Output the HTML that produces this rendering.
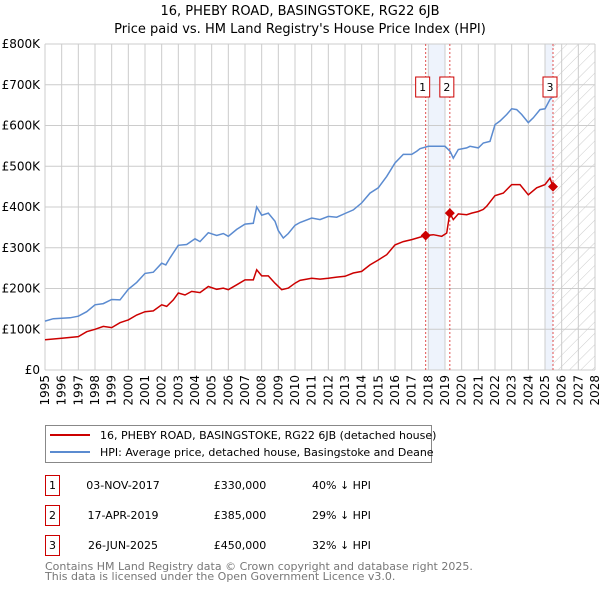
<!DOCTYPE html>
<html><head><meta charset="utf-8"><style>
body{margin:0;background:#fff;font-family:"DejaVu Sans","Liberation Sans",sans-serif;}
svg text{font-family:"DejaVu Sans","Liberation Sans",sans-serif;}
</style></head><body>
<svg id="chart" width="600" height="590" xmlns="http://www.w3.org/2000/svg">
<defs><pattern id="hatch" patternUnits="userSpaceOnUse" width="8" height="8" patternTransform="rotate(45)"><line x1="0" y1="0" x2="0" y2="8" stroke="#ccc" stroke-width="1"/></pattern></defs>
<text x="300" y="15" text-anchor="middle" font-size="13">16, PHEBY ROAD, BASINGSTOKE, RG22 6JB</text>
<text x="300" y="33" text-anchor="middle" font-size="13">Price paid vs. HM Land Registry's House Price Index (HPI)</text>
<g id="grid"></g><g id="series"></g><g id="axes"></g>
<rect x="45.5" y="425.5" width="386" height="37" fill="#fff" stroke="#888"/>
<line x1="50" y1="435" x2="90" y2="435" stroke="#cc0000" stroke-width="2"/>
<text x="100" y="439" font-size="11">16, PHEBY ROAD, BASINGSTOKE, RG22 6JB (detached house)</text>
<line x1="50" y1="452" x2="90" y2="452" stroke="#5b8bd0" stroke-width="2"/>
<text x="100" y="456" font-size="11">HPI: Average price, detached house, Basingstoke and Deane</text>
<g id="table" font-size="11"></g>
<text x="45" y="570" font-size="11" fill="#777">Contains HM Land Registry data © Crown copyright and database right 2025.</text>
<text x="45" y="580" font-size="11" fill="#777">This data is licensed under the Open Government Licence v3.0.</text>
</svg>
<script>
const yTicks=[0,100,200,300,400,500,600,700,800];
const yTickLabels=["£0","£100K","£200K","£300K","£400K","£500K","£600K","£700K","£800K"];
const xYears=[1995,1996,1997,1998,1999,2000,2001,2002,2003,2004,2005,2006,2007,2008,2009,2010,2011,2012,2013,2014,2015,2016,2017,2018,2019,2020,2021,2022,2023,2024,2025,2026,2027,2028];
const hpiYears=[1995,1995.5,1996,1996.5,1997,1997.5,1998,1998.5,1999,1999.5,2000,2000.5,2001,2001.5,2002,2002.25,2002.5,2003,2003.5,2004,2004.3,2004.8,2005.3,2005.7,2006,2006.5,2007,2007.5,2007.7,2008,2008.4,2008.8,2009,2009.3,2009.6,2010,2010.3,2011,2011.5,2012,2012.5,2013,2013.5,2014,2014.5,2015,2015.5,2016,2016.5,2017,2017.3,2017.5,2018,2018.5,2019,2019.3,2019.5,2019.8,2020.3,2020.5,2021,2021.3,2021.7,2022,2022.3,2022.7,2023,2023.3,2023.6,2024,2024.3,2024.7,2025,2025.3,2025.4];
const hpiValues=[120,126,127,128,132,143,160,163,173,172,198,215,237,240,262,258,275,306,308,322,315,337,330,335,328,345,358,360,400,380,385,365,342,324,335,355,362,373,369,377,375,384,393,410,434,447,475,508,529,529,537,543,549,549,549,537,520,541,545,549,545,557,561,602,611,627,641,639,627,607,619,639,641,664,668];
const propYears=[1995,1996,1997,1997.5,1998,1998.5,1999,1999.5,2000,2000.5,2001,2001.5,2002,2002.3,2002.7,2003,2003.4,2003.8,2004.3,2004.8,2005.3,2005.7,2006,2006.5,2007,2007.5,2007.7,2008,2008.4,2008.8,2009.2,2009.6,2010,2010.3,2011,2011.5,2012,2012.5,2013,2013.5,2014,2014.5,2015,2015.5,2016,2016.5,2017,2017.84,2018.3,2018.8,2019.1,2019.29,2019.5,2019.8,2020.3,2020.6,2021,2021.3,2021.5,2022,2022.5,2023,2023.5,2024,2024.5,2025,2025.3,2025.48];
const propValues=[74,78,82,94,100,107,104,116,123,135,143,145,160,156,172,189,184,193,190,205,198,201,197,209,221,221,246,231,231,213,197,201,213,220,225,223,225,228,230,238,242,258,270,283,307,315,320,330,332,328,336,385,369,383,381,385,389,394,402,428,434,455,455,430,447,455,471,450];
const saleLabels=["1","2","3"];
const saleYears=[2017.84,2019.29,2025.48];
const saleValues=[330,385,450];
const saleDates=["03-NOV-2017","17-APR-2019","26-JUN-2025"];
const salePrices=["£330,000","£385,000","£450,000"];
const saleDiffs=["40% ↓ HPI","29% ↓ HPI","32% ↓ HPI"];

const NS="http://www.w3.org/2000/svg";
const X0=45,X1=595,Y0=370,Y1=44;
const xs=y=>X0+(y-1995)/(2028-1995)*(X1-X0);
const ys=v=>Y0-v/800*(Y0-Y1);
function mk(tag,attrs,parent,text){const e=document.createElementNS(NS,tag);for(const k in attrs)e.setAttribute(k,attrs[k]);if(text!==undefined)e.textContent=text;parent.appendChild(e);return e;}
const grid=document.getElementById('grid'),ser=document.getElementById('series'),ax=document.getElementById('axes'),tb=document.getElementById('table');
// bands
let b=mk('rect',{x:xs(2018),y:Y1,width:xs(2019)-xs(2018),height:Y0-Y1,fill:'#eef3fc'},grid);


let b2=mk('rect',{x:xs(2025),y:Y1,width:xs(saleYears[2])-xs(2025),height:Y0-Y1,fill:'#eef3fc'},grid);


let h=mk('rect',{x:xs(saleYears[2]),y:Y1,width:X1-xs(saleYears[2]),height:Y0-Y1,fill:'url(#hatch)'},grid);


xYears.forEach(y=>{const l=mk('line',{x1:xs(y),x2:xs(y),y1:Y1,y2:Y0,stroke:'#ccc'},grid);


const t=mk('text',{x:0,y:0,'font-size':12,'text-anchor':'end',transform:`translate(${xs(y)+4},${Y0+5}) rotate(-90)`},ax,String(y));

});
yTicks.forEach((v,i)=>{const l=mk('line',{x1:X0,x2:X1,y1:ys(v),y2:ys(v),stroke:'#ccc'},grid);


const t=mk('text',{x:40,y:ys(v)+4,'font-size':12,'text-anchor':'end'},ax,yTickLabels[i]);

});
saleYears.forEach((y,i)=>{const l=mk('line',{x1:xs(y),x2:xs(y),y1:Y1,y2:Y0,stroke:'#e05050','stroke-dasharray':'2,2'},grid);

});
const pts=(xa,va)=>xa.map((y,i)=>xs(y).toFixed(1)+','+ys(va[i]).toFixed(1)).join(' ');
const hp=mk('polyline',{points:pts(hpiYears,hpiValues),fill:'none',stroke:'#5b8bd0','stroke-width':1.5},ser);


const pp=mk('polyline',{points:pts(propYears,propValues),fill:'none',stroke:'#cc0000','stroke-width':1.5},ser);


saleYears.forEach((y,i)=>{const cx=xs(y),cy=ys(saleValues[i]);
const d=mk('polygon',{points:`${cx},${cy-5} ${cx+5},${cy} ${cx},${cy+5} ${cx-5},${cy}`,fill:'#cc0000'},ser);


const r=mk('rect',{x:cx-10,y:77,width:14,height:20,fill:'#fff',stroke:'#cc0000'},ser);


const t=mk('text',{x:cx-3,y:91,'font-size':11,'text-anchor':'middle'},ser,saleLabels[i]);


const ry=475+i*30;
const br=mk('rect',{x:45.5,y:ry+0.5,width:14,height:20,fill:'#fff',stroke:'#cc0000'},tb);


const n=mk('text',{x:52.5,y:ry+14,'text-anchor':'middle'},tb,saleLabels[i]);


const dt=mk('text',{x:123,y:ry+14,'text-anchor':'middle'},tb,saleDates[i]);


const pr=mk('text',{x:240,y:ry+14,'text-anchor':'middle'},tb,salePrices[i]);


const df=mk('text',{x:312,y:ry+14},tb,saleDiffs[i]);

});
</script>
</body></html>
